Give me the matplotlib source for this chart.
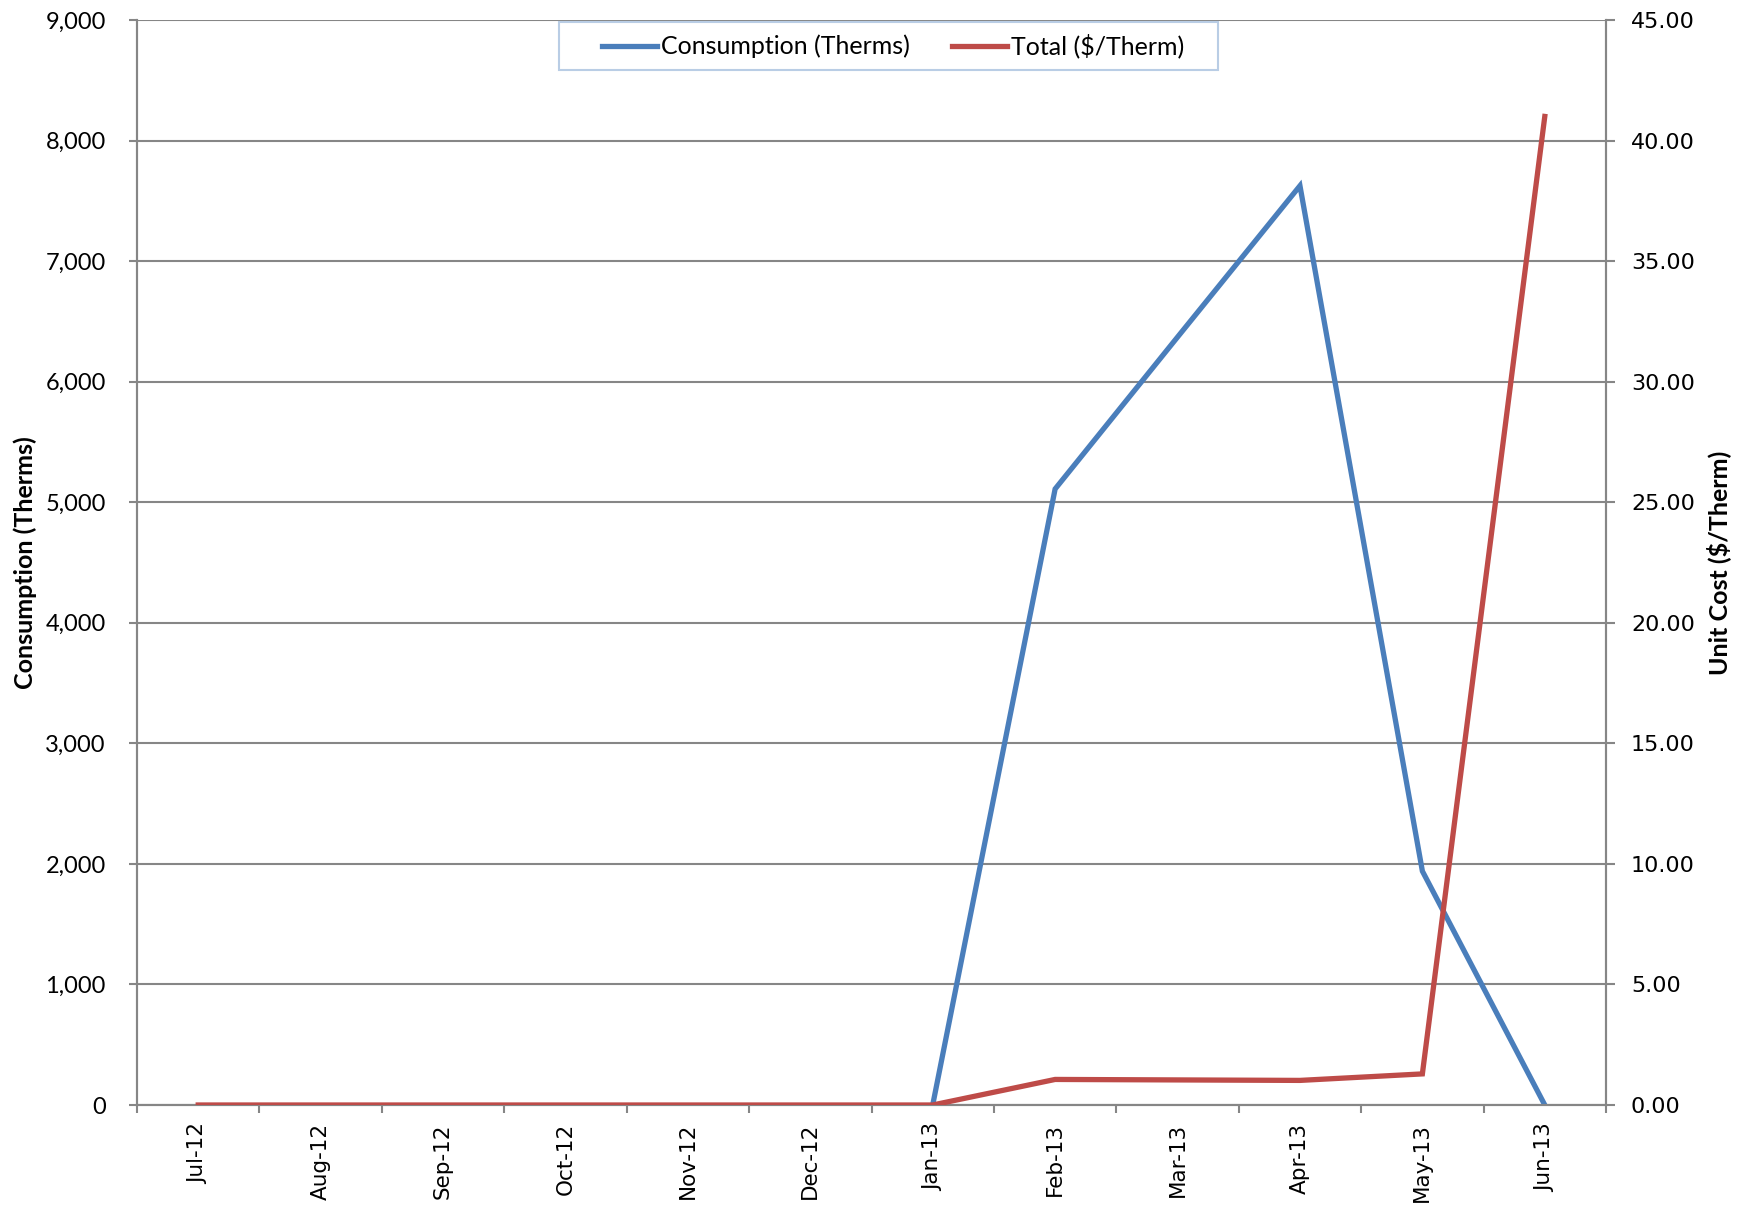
import matplotlib
matplotlib.use("Agg")
import matplotlib.pyplot as plt
from matplotlib.patches import Rectangle
import numpy as np

months = ["Jul-12", "Aug-12", "Sep-12", "Oct-12", "Nov-12", "Dec-12",
          "Jan-13", "Feb-13", "Mar-13", "Apr-13", "May-13", "Jun-13"]
consumption = [np.nan, np.nan, np.nan, np.nan, np.nan, np.nan,
               0, 5110, 6370, 7625, 1940, 0]
unit_cost = [0, 0, 0, 0, 0, 0, 0, 1.06, 1.04, 1.02, 1.29, 41.0]

left_ticks = list(range(0, 9001, 1000))
right_ticks = [i * 5 for i in range(10)]

blue = "#4a7ebb"
red = "#be4b48"
grid = "#868686"

fig = plt.figure(figsize=(17.45, 12.06), dpi=100)
ax = fig.add_axes([137/1745, 1 - 1105/1206, (1606-137)/1745, (1105-20)/1206])
ax2 = ax.twinx()

x = np.arange(len(months))
l1, = ax.plot(x, consumption, color=blue, lw=3.8, solid_joinstyle="miter", zorder=3, label="Consumption (Therms)")
l2, = ax2.plot(x, unit_cost, color=red, lw=3.8, solid_joinstyle="miter", zorder=3, label="Total ($/Therm)")

ax.set_xlim(-0.5, len(months) - 0.5)
ax.set_ylim(0, 9000)
ax2.set_ylim(0, 45)
ax.set_yticks(left_ticks)
ax.set_yticklabels([f"{v:,}" for v in left_ticks], family="Lato", fontsize=17)
ax2.set_yticks(right_ticks)
ax2.set_yticklabels([f"{v:.2f}" for v in right_ticks], family="DejaVu Sans", fontsize=16)

ax.set_xticks(x)
ax.set_xticklabels(months, rotation=90, family="DejaVu Sans", fontsize=15.5)
ax.set_xticks(np.arange(-0.5, len(months) + 0.5, 1), minor=True)
ax.tick_params(axis="x", which="major", length=0, pad=13)
ax.tick_params(axis="x", which="minor", length=6, width=1.5, color=grid, direction="out")
ax.tick_params(axis="y", length=5.5, width=1.5, color=grid, direction="out", pad=17)
ax2.tick_params(axis="y", length=6.5, width=1.5, color=grid, direction="out", pad=11.5)

ax.grid(axis="y", color=grid, lw=1.5)
ax.set_axisbelow(True)
for a in (ax, ax2):
    a.spines["top"].set_visible(False)
    for s in ("left", "right", "bottom"):
        a.spines[s].set_color(grid)
        a.spines[s].set_linewidth(1.5)

ax.set_ylabel("Consumption (Therms)", family="Lato", fontweight="bold", fontsize=18, labelpad=6)
ax2.set_ylabel("Unit Cost ($/Therm)", family="Lato", fontweight="bold", fontsize=18, labelpad=8, rotation=90)

# legend frame (Excel-style, wide padding)
ax2.add_patch(Rectangle((0.287, 0.954), 0.4486, 0.044, transform=ax2.transAxes,
                        facecolor="white", edgecolor="#b9cde5", lw=1.5, zorder=4))
leg = ax2.legend(handles=[l1, l2], loc="center left", bbox_to_anchor=(0.3166, 0.976), ncol=2,
                 frameon=False, prop={"family": "Lato", "size": 18},
                 handlelength=2.2, handletextpad=0.15, columnspacing=1.7,
                 borderpad=0.0, borderaxespad=0.0)
leg.set_zorder(5)

fig.savefig("out.png", dpi=100)
